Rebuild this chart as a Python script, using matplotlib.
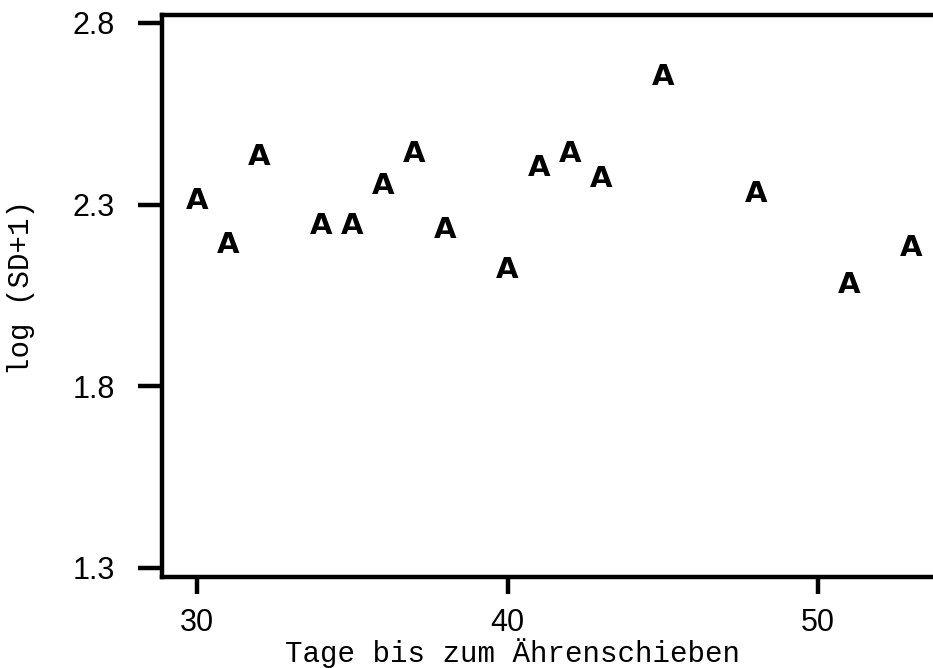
import numpy as np
from matplotlib import pyplot as plt

# Data
days   = np.array([30, 31, 32, 34, 35, 36, 37, 38, 40, 41, 42, 43, 45, 48, 51, 53])
logsd  = np.array([2.31, 2.19, 2.43, 2.24, 2.24, 2.35, 2.44, 2.23,
                   2.12, 2.40, 2.44, 2.37, 2.65, 2.33, 2.08, 2.18])
xticks = [30, 40, 50]
yticks = [1.3, 1.8, 2.3, 2.8]

fig = plt.figure(figsize=(9.33, 6.68), dpi=100)
ax  = fig.add_axes([162/933, 1-577/668, 1-162/933, (577-15)/668])

lw = 3.2
for s in ["left", "top", "bottom"]:
    ax.spines[s].set_linewidth(lw)
ax.spines["right"].set_visible(False)

# points are drawn as the letter "A"
for x, y in zip(days, logsd):
    ax.text(x, y, "A", ha="center", va="center", fontsize=21,
            fontweight="bold", family="DejaVu Sans")

ax.set_xlim(28.87, 53.7)
ax.set_ylim(1.275, 2.822)
ax.set_xticks(xticks)
ax.set_yticks(yticks)
ax.set_xticklabels([str(t) for t in xticks], family="Liberation Sans",
                   fontsize=22)
ax.set_yticklabels(["%.1f" % t for t in yticks], family="Liberation Sans",
                   fontsize=22)
ax.tick_params(axis="y", length=17, width=lw, pad=17)
ax.tick_params(axis="x", length=12, width=lw, pad=10)

ax.set_xlabel("Tage bis zum Ährenschieben", family="Liberation Mono",
              fontsize=21)
ax.xaxis.set_label_coords(0.455, -0.108)
ax.set_ylabel("log (SD+1)", family="Liberation Mono", fontsize=21)
ax.yaxis.set_label_coords(-0.165, 0.515)

fig.savefig("out.png", dpi=100)
